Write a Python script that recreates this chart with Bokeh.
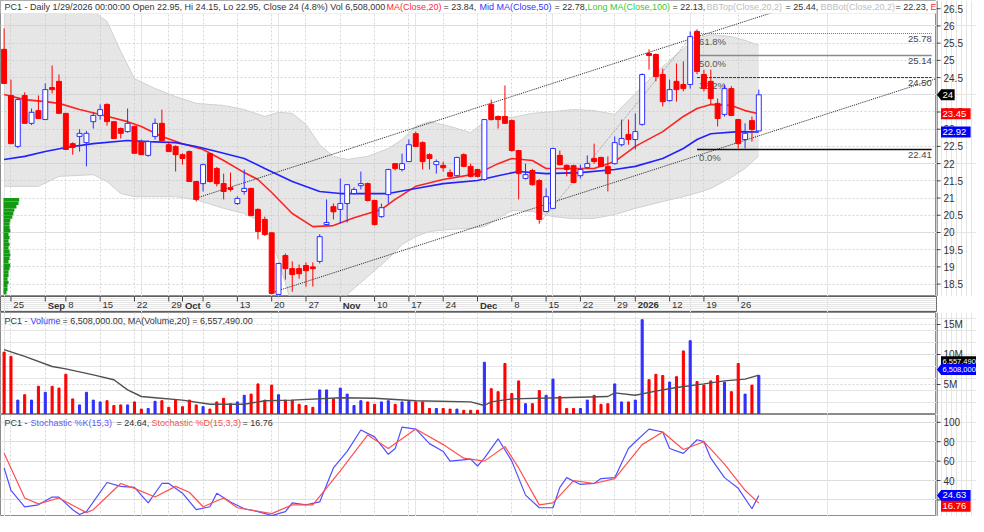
import pandas as pd
from bokeh.plotting import figure
from bokeh.layouts import column, row
from bokeh.models import Range1d, FixedTicker, Grid, Label, BoxAnnotation
from bokeh.embed import file_html
from bokeh.resources import INLINE
from bokeh.core.properties import value

FONT = "Liberation Sans"

# ---------------- data ----------------
holidays = ["2025-09-01", "2025-09-02", "2026-01-01", "2026-01-02"]
dates = [d.strftime("%Y-%m-%d") for d in pd.bdate_range("2025-08-22", "2026-01-29")
         if d.strftime("%Y-%m-%d") not in holidays]

opens = [25.32, 23.98, 22.50, 23.98, 23.17, 23.54, 23.28, 24.21, 24.39, 23.46,
         22.58, 22.79, 22.61, 23.22, 23.40, 23.72, 23.22, 23.02, 22.93, 23.08,
         22.64, 22.24, 22.79, 23.17, 22.55, 22.50, 22.26, 22.35, 21.48, 21.42,
         22.29, 21.86, 21.42, 21.30, 20.84, 21.19, 21.28, 20.67, 20.38, 19.99,
         18.20, 19.33, 18.95, 18.95, 19.04, 19.00, 19.16, 20.23, 20.75, 20.67,
         20.84, 21.13, 21.36, 21.42, 20.93, 20.46, 21.10, 22.00, 21.83, 22.06,
         22.87, 22.61, 22.26, 21.97, 21.95, 21.74, 21.65, 22.26, 21.92, 21.83,
         21.54, 23.72, 23.37, 23.37, 23.25, 22.38, 21.57, 21.80, 21.51, 20.61,
         20.70, 22.24, 21.95, 21.94, 21.65, 21.89, 22.15, 22.18, 21.92, 22.00,
         22.55, 22.85, 22.70, 23.14, 25.20, 25.17, 24.59, 23.83, 24.39, 24.30,
         24.30, 25.84, 24.59, 24.39, 23.75, 23.43, 24.18, 23.28, 22.70, 23.25,
         22.95]
highs = [25.93, 24.44, 23.90, 24.07, 23.60, 23.98, 24.33, 24.85, 24.59, 23.46,
         22.62, 23.00, 22.95, 23.49, 23.72, 23.75, 23.22, 23.05, 23.60, 23.10,
         22.70, 22.68, 23.31, 23.57, 22.64, 22.53, 22.30, 22.38, 21.50, 22.00,
         22.30, 21.90, 21.71, 21.74, 21.05, 21.83, 21.30, 20.70, 20.46, 20.00,
         19.12, 19.39, 19.16, 19.07, 19.13, 19.13, 19.95, 20.96, 20.84, 21.57,
         21.40, 21.31, 21.77, 21.45, 20.95, 20.84, 21.85, 22.02, 22.29, 22.70,
         22.93, 22.65, 22.30, 22.12, 22.06, 21.83, 22.20, 22.30, 22.00, 21.85,
         23.30, 23.86, 23.40, 24.27, 23.28, 22.40, 22.00, 21.85, 21.55, 21.28,
         22.46, 22.38, 21.98, 21.97, 21.97, 22.24, 22.58, 22.20, 22.21, 22.79,
         23.28, 23.28, 23.46, 24.62, 25.32, 25.20, 24.76, 24.44, 24.91, 24.97,
         25.84, 25.90, 24.73, 24.73, 23.89, 24.30, 24.25, 23.30, 23.17, 23.37,
         24.15]
lows = [24.33, 22.58, 22.45, 23.17, 23.12, 23.31, 23.28, 24.04, 23.46, 22.41,
        22.26, 22.35, 21.92, 23.02, 23.28, 23.10, 22.73, 22.73, 22.90, 22.30,
        22.26, 22.20, 22.70, 22.67, 22.35, 21.77, 21.97, 21.48, 20.90, 21.19,
        21.45, 21.34, 20.96, 21.19, 20.80, 21.10, 20.49, 19.80, 19.90, 18.20,
        18.18, 18.63, 18.28, 18.66, 18.43, 18.43, 19.10, 20.20, 20.38, 20.26,
        20.29, 21.10, 21.25, 20.90, 20.20, 20.43, 20.84, 21.80, 21.77, 22.05,
        22.48, 21.83, 21.83, 21.71, 21.77, 21.60, 21.63, 21.90, 21.60, 21.60,
        21.50, 23.25, 23.02, 23.15, 22.35, 20.96, 21.54, 21.36, 20.26, 20.58,
        20.68, 21.95, 21.63, 21.43, 21.57, 21.85, 22.00, 21.90, 21.19, 21.97,
        22.50, 22.55, 22.41, 23.10, 24.73, 24.39, 23.66, 23.80, 23.80, 24.10,
        24.18, 24.60, 24.10, 23.72, 23.08, 23.37, 23.38, 22.44, 22.44, 22.64,
        22.95]
closes = [24.33, 22.58, 23.86, 23.17, 23.49, 23.31, 24.15, 24.15, 23.46, 22.41,
          22.47, 22.88, 22.88, 23.40, 23.57, 23.22, 22.73, 22.88, 23.17, 22.30,
          22.26, 22.64, 23.17, 22.67, 22.35, 22.26, 22.15, 21.48, 20.96, 21.97,
          21.48, 21.42, 21.19, 21.25, 20.99, 21.28, 20.49, 20.03, 19.94, 18.23,
          19.10, 18.95, 18.78, 18.80, 18.89, 18.95, 19.88, 20.29, 20.60, 20.84,
          21.39, 21.25, 21.42, 20.93, 20.23, 20.72, 21.83, 21.86, 22.00, 22.55,
          22.50, 22.06, 22.15, 22.06, 21.88, 21.63, 22.18, 21.92, 21.63, 21.63,
          23.28, 23.28, 23.28, 23.17, 22.38, 21.71, 21.68, 21.39, 20.38, 21.04,
          22.44, 21.97, 21.83, 21.45, 21.83, 22.00, 22.06, 21.92, 21.71, 22.61,
          22.73, 22.70, 22.93, 24.59, 25.14, 24.53, 23.80, 24.15, 24.15, 24.18,
          25.69, 24.68, 24.18, 23.89, 23.31, 24.18, 23.40, 22.58, 22.88, 22.99,
          24.00]
volume_m = [10.4, 9.7, 2.4, 3.3, 2.4, 4.7, 3.7, 4.7, 4.4, 6.7,
            2.6, 1.6, 3.7, 2.4, 2.1, 2.3, 1.5, 1.6, 1.6, 2.1,
            0.9, 1.0, 2.2, 2.3, 1.2, 2.4, 1.3, 2.4, 1.6, 1.3,
            0.9, 2.1, 2.7, 1.8, 2.1, 3.2, 3.4, 5.1, 2.4, 4.9,
            3.3, 2.4, 2.4, 1.7, 1.5, 1.2, 4.1, 4.1, 2.6, 4.4,
            3.4, 1.5, 2.3, 2.1, 1.7, 2.1, 2.3, 1.7, 2.1, 2.2,
            2.1, 2.1, 1.0, 1.0, 1.0, 0.9, 0.9, 0.7, 0.7, 0.7,
            8.7, 4.3, 3.8, 8.5, 3.5, 5.6, 1.8, 1.8, 4.0, 3.2,
            5.9, 3.0, 1.0, 1.0, 1.0, 2.4, 3.2, 1.7, 1.8, 5.1,
            2.1, 2.1, 2.4, 15.8, 5.8, 6.7, 6.5, 5.4, 6.3, 10.6,
            12.3, 5.5, 4.9, 5.6, 6.5, 5.4, 3.8, 8.5, 3.4, 4.9,
            6.508]

ma20_idx = [0, 3, 6, 8, 11, 14, 18, 20, 23, 26, 29, 32, 35, 37, 39, 42, 45, 48, 51, 55,
            57, 60, 64, 69, 72, 74, 77, 79, 82, 86, 89, 92, 96, 99, 101, 103, 106, 108, 110]
ma20 = [24.01, 23.86, 23.80, 23.75, 23.57, 23.43, 23.22, 23.08, 22.79, 22.58,
        22.41, 22.09, 21.74, 21.54, 21.16, 20.55, 20.17, 20.20, 20.43, 20.67,
        20.96, 21.34, 21.54, 21.71, 22.00, 22.15, 22.09, 21.86, 21.86, 21.86,
        22.06, 22.50, 22.93, 23.37, 23.60, 23.72, 23.69, 23.54, 23.45]
ma50_idx = [0, 3, 6, 9, 13, 18, 21, 25, 28, 31, 35, 38, 42, 46, 49, 53, 56, 60, 64, 69,
            72, 75, 79, 84, 89, 92, 96, 99, 101, 103, 107, 110]
ma50 = [22.12, 22.21, 22.35, 22.47, 22.58, 22.67, 22.64, 22.61, 22.50, 22.35,
        22.15, 21.86, 21.48, 21.19, 21.13, 21.13, 21.13, 21.28, 21.42, 21.51,
        21.65, 21.77, 21.71, 21.74, 21.83, 21.92, 22.15, 22.44, 22.70, 22.87,
        22.93, 22.92]
bb_idx = [0, 5, 8, 13, 15, 17, 19, 22, 25, 28, 32, 35, 38, 40, 42, 44, 46, 48, 50, 53,
          56, 58, 60, 62, 65, 68, 70, 72, 74, 77, 80, 83, 86, 89, 92, 96, 99, 101, 103, 106,
          108, 110]
bb_up = [26.51, 26.56, 26.51, 26.42, 26.13, 25.26, 24.47, 24.18, 23.95, 23.75,
         23.69, 23.57, 23.37, 23.49, 23.46, 23.14, 22.55, 22.21, 22.12, 22.21,
         22.44, 22.70, 23.08, 23.22, 23.08, 22.90, 23.22, 23.37, 23.34, 23.46,
         23.51, 23.57, 23.54, 23.43, 24.04, 24.82, 25.34, 25.63, 25.75, 25.69,
         25.58, 25.44]
bb_lo = [21.34, 21.34, 21.63, 21.68, 21.48, 21.13, 21.04, 21.04, 21.04, 20.95,
         20.70, 20.55, 20.26, 19.21, 17.85, 17.56, 17.56, 17.85, 18.20, 18.72,
         19.24, 19.65, 19.88, 20.03, 20.09, 20.12, 20.17, 20.41, 20.64, 20.61,
         20.46, 20.40, 20.41, 20.52, 20.70, 20.90, 21.04, 21.15, 21.28, 21.60,
         21.86, 22.23]

vma_idx = [0, 3, 7, 9, 13, 16, 18, 20, 22, 26, 30, 35, 38, 42, 49, 54, 60, 68, 70, 71,
           74, 81, 88, 89, 92, 95, 98, 102, 105, 108, 110]
vma = [10.8, 9.7, 8.0, 7.6, 6.6, 5.8, 4.1, 3.0, 2.8, 2.4, 1.7, 1.7, 2.3, 2.4, 2.8, 2.7,
       2.3, 2.1, 1.5, 2.1, 2.6, 2.8, 3.0, 3.6, 3.2, 3.9, 4.5, 5.1, 5.6, 5.9, 6.557]

k_idx = [0, 1, 3, 5, 7, 8, 10, 11, 12, 15, 17, 19, 21, 23, 24, 26, 28, 30, 31, 33,
         35, 37, 39, 41, 42, 44, 46, 48, 50, 52, 54, 56, 57, 58, 60, 62, 64, 65, 68, 69,
         70, 72, 74, 76, 78, 80, 81, 82, 84, 86, 87, 89, 91, 92, 94, 96, 97, 99, 101, 102,
         103, 105, 107, 109, 110]
k_val = [53, 30, 13, 15, 23, 23, 10, 5, 8, 38, 34, 33, 17, 37, 37, 27, 10, 13, 27, 18,
         11, 8, 4, 8, 17, 15, 18, 53, 70, 92, 85, 67, 73, 95, 93, 78, 70, 60, 62, 55,
         63, 83, 60, 25, 12, 12, 33, 43, 36, 37, 42, 43, 73, 80, 93, 90, 73, 68, 82, 80,
         63, 43, 32, 11, 24.64]
d_idx = [0, 3, 5, 8, 12, 13, 17, 19, 22, 25, 27, 29, 32, 34, 39, 42, 45, 49, 53, 56,
         60, 64, 67, 70, 73, 75, 78, 80, 83, 86, 89, 93, 96, 99, 102, 105, 108, 110]
d_val = [68, 22, 16, 22, 7, 10, 37, 32, 23, 34, 28, 13, 22, 12, 6, 15, 15, 50, 87, 73,
         93, 77, 63, 60, 75, 53, 15, 17, 40, 37, 42, 77, 90, 72, 80, 57, 30, 16.76]

vp_price = [20.95, 20.85, 20.75, 20.65, 20.55, 20.45, 20.35, 20.25, 20.15, 20.05,
            19.95, 19.85, 19.75, 19.65, 19.55, 19.45, 19.35, 19.25, 19.15, 19.05,
            18.95, 18.85, 18.75, 18.65, 18.55, 18.45, 18.35, 18.25]
vp_len = [2.3, 2.2, 1.9, 1.6, 1.45, 1.3, 1.0, 0.9, 0.9, 1.0, 0.75, 0.9, 0.75, 0.9,
          0.75, 0.9, 1.0, 0.9, 0.75, 1.0, 0.9, 0.75, 0.75, 0.6, 0.75, 0.6, 0.6, 0.45]

chan_hi_x = [27.9, 112.0]
chan_hi_y = [20.99, 26.39]
chan_lo_x = [38.7, 135.9]
chan_lo_y = [18.23, 24.47]
fib_trend_x = [78, 101]
fib_trend_y = [20.26, 25.90]
fib_levels = [25.78, 25.14, 24.50, 22.41]
fib_names = ["61.8%", "50.0%", "38.2%", "0.0%"]
fib_x0, fib_x1 = 101, 135.2

tick_dates = ["2025-08-25", "2025-09-03", "2025-09-08", "2025-09-15", "2025-09-22",
              "2025-09-29", "2025-10-01", "2025-10-06", "2025-10-13", "2025-10-20",
              "2025-10-27", "2025-11-03", "2025-11-10", "2025-11-17", "2025-11-24",
              "2025-12-01", "2025-12-08", "2025-12-15", "2025-12-22", "2025-12-29",
              "2026-01-05", "2026-01-12", "2026-01-19", "2026-01-26"]
tick_labels = ["25", "Sep", "8", "15", "22", "29", "Oct", "6", "13", "20", "27", "Nov",
               "10", "17", "24", "Dec", "8", "15", "22", "29", "2026", "12", "19", "26"]
bold_labels = ["Sep", "Oct", "Nov", "Dec", "2026"]
price_ticks = [18.5, 19, 19.5, 20, 20.5, 21, 21.5, 22, 22.5, 23, 23.5, 24, 24.5, 25,
               25.5, 26, 26.5]
price_tick_labels = ["18.5", "19", "19.5", "20", "20.5", "21", "21.5", "22", "22.5", "23",
                     "23.5", "24", "24.5", "25", "25.5", "26", "26.5"]
vol_ticks = [5, 10, 15]
vol_tick_labels = ["5M", "10M", "15M"]
sto_ticks = [20, 40, 60, 80, 100]
sto_tick_labels = ["20", "40", "60", "80", "100"]

# ---------------- derived ----------------
idx = list(range(len(dates)))
tick_idx = [dates.index(d) for d in tick_dates]
RED, BLUE = "#ff0000", "#2f2fff"
up = [c >= o for o, c in zip(opens, closes)]
ccol = [BLUE if u else RED for u in up]
cfill = ["white" if u else RED for u in up]
btop = [max(o, c) for o, c in zip(opens, closes)]
bbot = [min(o, c) for o, c in zip(opens, closes)]

FW = 936          # plot frame width
AW = 40           # right axis strip width
XR = Range1d(-0.525, 135.9)
GRID_C = "#d6d6d6"
DARK = "#333333"


def panel(h, y0, y1, yticks):
    p = figure(width=FW, height=h, x_range=XR, y_range=Range1d(y0, y1),
               output_backend="svg", toolbar_location=None,
               x_axis_location=None, y_axis_location=None,
               min_border_left=0, min_border_right=0, min_border_top=0,
               min_border_bottom=0)
    p.outline_line_color = "#8c8c8c"
    p.background_fill_color = "white"
    p.border_fill_color = "white"
    p.add_layout(Grid(dimension=0, ticker=FixedTicker(ticks=tick_idx),
                      grid_line_color=GRID_C, grid_line_dash="2 2"))
    p.add_layout(Grid(dimension=1, ticker=FixedTicker(ticks=yticks),
                      grid_line_color=GRID_C, grid_line_dash="2 2"))
    return p


def axis_strip(h, p, yticks, ylabels):
    a = figure(width=AW, height=h, x_range=Range1d(0, AW), y_range=p.y_range,
               output_backend="svg", toolbar_location=None,
               x_axis_location=None, y_axis_location=None,
               min_border_left=0, min_border_right=0, min_border_top=0,
               min_border_bottom=0)
    a.outline_line_color = None
    a.background_fill_color = "white"
    a.border_fill_color = "white"
    a.segment(x0=[0.5], y0=[p.y_range.start], x1=[0.5], y1=[p.y_range.end],
              line_color="#404040", line_width=1)
    n = len(yticks)
    a.segment(x0=[0] * n, y0=yticks, x1=[4] * n, y1=yticks, line_color="#404040",
              line_width=1)
    a.text(x=[7] * n, y=yticks, text=ylabels, text_font=value(FONT),
           text_font_size="10px", text_color=DARK, text_baseline="middle",
           text_align="left")
    return a


def marker(a, y, text, bg, px_per_unit, fs=9.5, arrow=False, fg="white"):
    hh = 11.0 / px_per_unit / 2
    w = len(text) * fs * 0.56 + 3
    x0 = 4.5
    a.quad(left=[x0], right=[min(x0 + w, AW)], bottom=[y - hh], top=[y + hh],
           fill_color=bg, line_color=None)
    if arrow:
        a.patch(x=[0.5, x0 + 0.2, x0 + 0.2], y=[y, y + hh, y - hh], fill_color=bg,
                line_color=None)
    a.text(x=[x0 + 1.5], y=[y], text=[text], text_font=value(FONT),
           text_font_size=f"{fs}px", text_color=fg, text_baseline="middle",
           text_align="left")


def header(p, y, parts, fs="9px"):
    for text, x, color in parts:
        p.add_layout(Label(x=x, y=y, x_units="screen", y_units="screen", text=text,
                           text_color=color, text_font=FONT, text_font_size=fs,
                           text_baseline="middle", text_align="left"))


# ---------------- main price panel ----------------
H1 = 296
Y0, Y1 = 18.14, 26.739
p1 = panel(H1, Y0, Y1, price_ticks)
ppu1 = H1 / (Y1 - Y0)

p1.varea(x=bb_idx, y1=bb_lo, y2=bb_up, fill_color="#c8c8c8", fill_alpha=0.45)
p1.line(bb_idx, bb_up, line_color="#d0d0d0", line_width=1)
p1.line(bb_idx, bb_lo, line_color="#d0d0d0", line_width=1)
p1.hbar(y=vp_price, left=-0.1, right=[-0.1 + v for v in vp_len], height=0.1,
        fill_color="#139a13", line_color=None)
p1.line(ma20_idx, ma20, line_color="#ff2222", line_width=1.6)
p1.line(ma50_idx, ma50, line_color="#2222ff", line_width=1.6)
p1.line(chan_hi_x, chan_hi_y, line_color="#222222", line_width=1, line_dash="1 1")
p1.line(chan_lo_x, chan_lo_y, line_color="#222222", line_width=1, line_dash="1 1")
p1.line(fib_trend_x, fib_trend_y, line_color="#999999", line_width=1, line_dash="1 1")

fib_styles = [("#777777", 1, "1 1"), ("#8a8a8a", 1.5, "solid"), ("#333333", 1, "3 1"),
              ("#111111", 1.6, "solid")]
for lvl, (c, w, d) in zip(fib_levels, fib_styles):
    p1.line([fib_x0, fib_x1], [lvl, lvl], line_color=c, line_width=w, line_dash=d)
p1.text(x=[fib_x0 + 0.3] * 4, y=fib_levels, text=fib_names, text_font=value(FONT),
        text_font_size="9.5px", text_color="#555555", text_baseline="top", y_offset=2)
p1.text(x=[fib_x1] * 4, y=fib_levels, text=[f"{v:.2f}" for v in fib_levels],
        text_font=value(FONT), text_font_size="9.5px", text_color="#444444",
        text_baseline="top", text_align="right", y_offset=2)

p1.segment(x0=idx, y0=lows, x1=idx, y1=highs, line_color=ccol, line_width=1)
p1.vbar(x=idx, width=0.72, top=btop, bottom=bbot, fill_color=cfill, line_color=ccol,
        line_width=1)

p1.add_layout(BoxAnnotation(bottom=26.36, fill_color="white", fill_alpha=1.0,
                            line_color="#c8c8c8", line_width=1))
header(p1, 290, [
    ("PC1 - Daily 1/29/2026 00:00:00 Open 22.95, Hi 24.15, Lo 22.95, Close 24 (4.8%) Vol 6,508,000", 4, DARK),
    ("MA(Close,20)", 386, "#ff2a2a"),
    ("= 23.84,", 443, DARK),
    ("Mid MA(Close,50)", 479, "#3333ff"),
    ("= 22.78,", 554, DARK),
    ("Long MA(Close,100)", 587, "#33cc33"),
    ("= 22.13,", 672, DARK),
    ("BBTop(Close,20,2)", 706, "#bdbdbd"),
    ("= 25.44,", 785, DARK),
    ("BBBot(Close,20,2)", 820, "#bdbdbd"),
    ("= 22.23,", 895, DARK),
    ("E", 930, "#ff2a2a"),
])
a1 = axis_strip(H1, p1, price_ticks, price_tick_labels)
marker(a1, 24.0, "24", "black", ppu1, arrow=True)
marker(a1, 23.45, "23.45", "#ff0000", ppu1)
marker(a1, 22.92, "22.92", "#0000ff", ppu1)

# ---------------- date strip ----------------
ps = figure(width=FW + AW, height=16, x_range=XR, y_range=Range1d(0, 16),
            output_backend="svg", toolbar_location=None, x_axis_location=None,
            y_axis_location=None, min_border_left=0, min_border_right=AW,
            min_border_top=0, min_border_bottom=0)
ps.outline_line_color = "#606060"
ps.segment(x0=tick_idx, y0=[16] * len(tick_idx), x1=tick_idx, y1=[11] * len(tick_idx),
           line_color="#404040", line_width=1)
n_x = [t + 0.35 for t, l in zip(tick_idx, tick_labels) if l not in bold_labels]
n_t = [l for l in tick_labels if l not in bold_labels]
b_x = [t + 0.35 for t, l in zip(tick_idx, tick_labels) if l in bold_labels]
b_t = [l for l in tick_labels if l in bold_labels]
ps.text(x=n_x, y=[7.5] * len(n_x), text=n_t, text_font=value(FONT), text_font_size="9.5px",
        text_color=DARK, text_baseline="middle", text_align="left")
ps.text(x=b_x, y=[7.5] * len(b_x), text=b_t, text_font=value(FONT), text_font_size="9.5px",
        text_font_style=value("bold"), text_color=DARK, text_baseline="middle",
        text_align="left")

# ---------------- volume panel ----------------
H2 = 102
p2 = panel(H2, 0, 17, vol_ticks)
p2.vbar(x=idx, top=volume_m, bottom=0, width=0.3, fill_color=ccol, line_color=ccol)
p2.line(vma_idx, vma, line_color="#505050", line_width=1.4)
header(p2, 94, [
    ("PC1 -", 4, DARK),
    ("Volume", 30, "#3333ff"),
    ("= 6,508,000.00, MA(Volume,20) = 6,557,490.00", 62, DARK),
])
a2 = axis_strip(H2, p2, vol_ticks, vol_tick_labels)
marker(a2, 8.8, "6,557,490", "black", H2 / 17, fs=7.5)
marker(a2, 7.5, "6,508,000", "#0000ff", H2 / 17, fs=7.5, arrow=True)

# ---------------- stochastic panel ----------------
H3 = 102
p3 = panel(H3, 3, 108, sto_ticks)
p3.line(k_idx, k_val, line_color="#4f4fff", line_width=1.2)
p3.line(d_idx, d_val, line_color="#ff5050", line_width=1.2)
header(p3, 94, [
    ("PC1 -", 4, DARK),
    ("Stochastic %K(15,3)", 30, "#5a5aff"),
    ("= 24.64,", 116, DARK),
    ("Stochastic %D(15,3,3)", 151, "#ff5050"),
    ("= 16.76", 242, DARK),
])
a3 = axis_strip(H3, p3, sto_ticks, sto_tick_labels)
marker(a3, 24.64, "24.63", "#0000ff", H3 / 105, arrow=True)
marker(a3, 13.5, "16.76", "#ff0000", H3 / 105)

layout = column(row(p1, a1, spacing=0), ps, row(p2, a2, spacing=0),
                row(p3, a3, spacing=0), spacing=0)
open("out.html", "w").write(file_html(layout, INLINE, title="PC1"))
